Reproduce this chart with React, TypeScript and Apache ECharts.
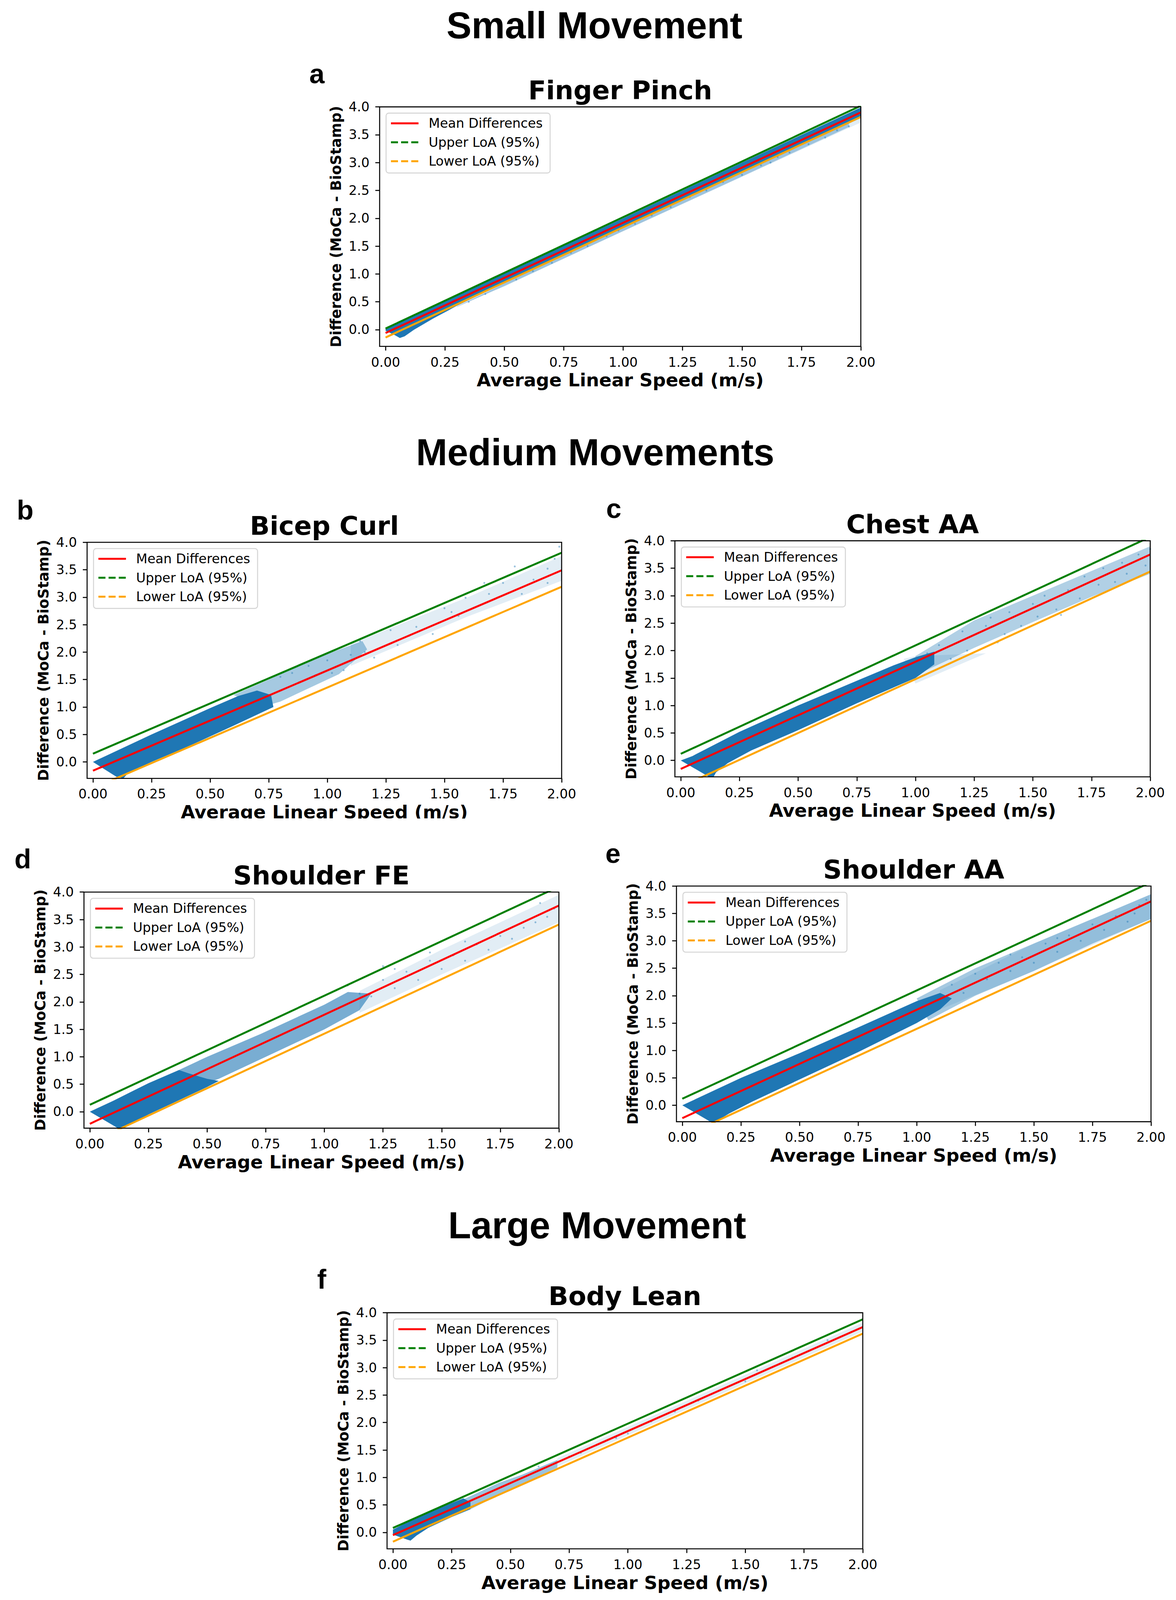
import React, { useEffect, useRef, useState } from 'react';
import * as echarts from 'echarts';

// ---------- data ----------
const X_TICKS = [0, 0.25, 0.5, 0.75, 1, 1.25, 1.5, 1.75, 2];
const Y_TICKS = [0, 0.5, 1, 1.5, 2, 2.5, 3, 3.5, 4];
const X_RANGE = [-0.025, 2];
const Y_RANGE = [-0.3, 4];
const LINE_X = [0, 2];

const SECTION_TITLES = ['Small Movement', 'Medium Movements', 'Large Movement'];
const PANEL_LETTERS = ['a', 'b', 'c', 'd', 'e', 'f'];
const PANEL_TITLES = ['Finger Pinch', 'Bicep Curl', 'Chest AA', 'Shoulder FE', 'Shoulder AA', 'Body Lean'];
const LEGEND_LABELS = ['Mean Differences', 'Upper LoA (95%)', 'Lower LoA (95%)'];
const X_LABEL = 'Average Linear Speed (m/s)';
const Y_LABEL = 'Difference (MoCa - BioStamp)';

// y of each line at x = 0 and x = 2
const MEAN_Y = [[-0.06, 3.9], [-0.16, 3.49], [-0.155, 3.75], [-0.22, 3.755], [-0.234, 3.72], [-0.05, 3.74]];
const UPPER_Y = [[0.02, 4.02], [0.15, 3.81], [0.12, 4.07], [0.126, 4.1], [0.12, 4.07], [0.08, 3.88]];
const LOWER_Y = [[-0.14, 3.82], [-0.48, 3.19], [-0.48, 3.44], [-0.567, 3.41], [-0.576, 3.365], [-0.17, 3.62]];

// dense scatter cloud outlines
const CORE_A = [[0, -0.02], [0, 0.02], [0.5, 1.01], [1.0, 2.0], [1.5, 3.0], [2, 3.99], [2, 3.8], [1.5, 2.82], [1.0, 1.83], [0.5, 0.84], [0.3, 0.43], [0.2, 0.2], [0.12, 0.0], [0.08, -0.12], [0.06, -0.15], [0.04, -0.1]];
const CORE_B = [[0, 0], [0.05, 0.1], [0.25, 0.5], [0.5, 0.98], [0.62, 1.2], [0.7, 1.3], [0.76, 1.22], [0.77, 1.0], [0.6, 0.66], [0.4, 0.27], [0.25, 0.0], [0.15, -0.2], [0.13, -0.3], [0.1, -0.27]];
const CORE_C = [[0, 0], [0.05, 0.08], [0.25, 0.52], [0.5, 1.0], [0.75, 1.45], [0.9, 1.72], [1.0, 1.88], [1.08, 1.98], [1.08, 1.75], [1.0, 1.5], [0.75, 1.04], [0.5, 0.55], [0.3, 0.18], [0.2, -0.05], [0.15, -0.22], [0.14, -0.3], [0.12, -0.3]];
const CORE_D = [[0, 0], [0.1, 0.2], [0.25, 0.52], [0.38, 0.76], [0.42, 0.7], [0.5, 0.6], [0.55, 0.56], [0.5, 0.45], [0.35, 0.15], [0.25, -0.05], [0.2, -0.17], [0.15, -0.27], [0.13, -0.3], [0.12, -0.3]];
const CORE_E = [[0, 0], [0.1, 0.2], [0.25, 0.5], [0.5, 0.95], [0.75, 1.42], [1.0, 1.9], [1.1, 2.05], [1.15, 1.95], [1.1, 1.75], [1.0, 1.5], [0.75, 0.97], [0.5, 0.47], [0.3, 0.07], [0.2, -0.15], [0.15, -0.28], [0.135, -0.3], [0.12, -0.3]];
const CORE_F = [[0, 0.05], [0.1, 0.27], [0.2, 0.45], [0.3, 0.62], [0.33, 0.55], [0.33, 0.42], [0.25, 0.28], [0.15, 0.08], [0.1, -0.06], [0.075, -0.15], [0.06, -0.13], [0, -0.04]];

// medium-density cloud outlines
const HALO_A = [[0.1, 0.0], [0.5, 0.83], [1.0, 1.83], [1.5, 2.82], [1.95, 3.72], [1.95, 3.64], [1.5, 2.75], [1.0, 1.77], [0.5, 0.78], [0.25, 0.32]];
const HALO_B = [[0.6, 1.22], [0.75, 1.5], [0.9, 1.8], [1.0, 1.97], [1.15, 2.2], [1.17, 2.05], [1.05, 1.6], [0.95, 1.4], [0.8, 1.1], [0.72, 1.0]];
const HALO_C = [[1.0, 1.9], [1.25, 2.55], [1.5, 3.0], [1.75, 3.45], [2.0, 3.9], [2.0, 3.4], [1.75, 2.98], [1.5, 2.52], [1.25, 2.05], [1.0, 1.55]];
const HALO_D = [[0.38, 0.76], [0.5, 1.0], [0.73, 1.42], [1.0, 1.95], [1.1, 2.18], [1.2, 2.15], [1.15, 1.85], [1.0, 1.5], [0.75, 1.0], [0.55, 0.6], [0.45, 0.45]];
const HALO_E = [[1.0, 1.95], [1.25, 2.5], [1.5, 2.95], [1.75, 3.4], [2.0, 3.85], [2.0, 3.4], [1.75, 2.95], [1.5, 2.45], [1.25, 2.0], [1.05, 1.55]];
const HALO_F = [[0.3, 0.6], [0.45, 0.9], [0.55, 1.05], [0.7, 1.32], [0.7, 1.18], [0.55, 0.88], [0.45, 0.68], [0.33, 0.42]];

// outer, sparse cloud outlines
const FRINGE_A = [[0.3, 0.45], [2.0, 3.9], [2.0, 3.72], [0.3, 0.4]];
const FRINGE_B = [[1.1, 2.15], [1.6, 3.0], [2.0, 3.75], [2.0, 3.3], [1.6, 2.65], [1.1, 1.75]];
const FRINGE_C = [[0.95, 1.85], [1.0, 1.4], [1.3, 1.95], [1.0, 1.9]];
const FRINGE_D = [[1.15, 2.2], [1.5, 2.95], [2.0, 3.95], [2.0, 3.45], [1.5, 2.5], [1.15, 1.8]];
const FRINGE_E = [[1.1, 2.1], [1.5, 2.95], [2.0, 3.85], [2.0, 3.4], [1.5, 2.45], [1.1, 1.75]];
const FRINGE_F = [[0.7, 1.35], [2.0, 3.82], [2.0, 3.66], [0.7, 1.2]];

// individual sparse points
const SPARSE_A = [[0.35, 0.5], [0.42, 0.64], [0.55, 0.9], [0.62, 1.05], [0.7, 1.2], [0.78, 1.38], [0.85, 1.5], [0.93, 1.68], [1.05, 1.9], [1.12, 2.05], [1.2, 2.2], [1.28, 2.38], [1.35, 2.5], [1.42, 2.65], [1.5, 2.78], [1.58, 2.95], [1.62, 3.0], [1.7, 3.18], [1.78, 3.33], [1.85, 3.45], [1.9, 3.58], [1.95, 3.65], [1.3, 2.45], [0.98, 1.78], [1.65, 3.1]];
const SPARSE_B = [[0.8, 1.55], [0.85, 1.62], [0.88, 1.45], [0.92, 1.75], [0.95, 1.58], [1.0, 1.85], [1.02, 1.62], [1.07, 1.67], [1.1, 1.95], [1.14, 2.2], [1.16, 2.0], [1.2, 1.9], [1.27, 2.4], [1.3, 2.13], [1.35, 2.3], [1.38, 2.46], [1.45, 2.33], [1.5, 2.8], [1.53, 2.73], [1.56, 2.66], [1.59, 2.99], [1.67, 3.26], [1.69, 3.06], [1.75, 3.26], [1.8, 3.56], [1.83, 3.06], [1.88, 3.32], [1.94, 3.52], [1.94, 3.26], [1.99, 3.92], [1.97, 3.7]];
const SPARSE_C = [[1.05, 1.95], [1.1, 2.1], [1.15, 1.85], [1.2, 2.35], [1.22, 2.0], [1.3, 2.45], [1.32, 2.6], [1.38, 2.3], [1.4, 2.7], [1.45, 2.45], [1.5, 2.85], [1.52, 2.62], [1.55, 3.0], [1.6, 2.75], [1.65, 3.1], [1.7, 2.95], [1.72, 3.35], [1.78, 3.2], [1.8, 3.5], [1.85, 3.25], [1.88, 3.6], [1.9, 3.4], [1.95, 3.75], [1.98, 3.55], [2.0, 3.85], [1.62, 2.65], [1.35, 2.15]];
const SPARSE_D = [[1.15, 2.15], [1.2, 2.1], [1.25, 2.4], [1.3, 2.25], [1.35, 2.55], [1.4, 2.4], [1.45, 2.75], [1.5, 2.6], [1.55, 2.85], [1.6, 2.75], [1.65, 3.05], [1.7, 2.95], [1.75, 3.2], [1.8, 3.15], [1.85, 3.35], [1.9, 3.45], [1.95, 3.55], [1.98, 3.7], [1.92, 3.8], [1.6, 3.1], [1.3, 2.6], [1.45, 2.9], [1.1, 2.3], [1.25, 2.65]];
const SPARSE_E = [[1.15, 2.2], [1.2, 2.05], [1.25, 2.4], [1.3, 2.3], [1.35, 2.6], [1.4, 2.45], [1.45, 2.7], [1.5, 2.6], [1.55, 2.95], [1.6, 2.8], [1.65, 3.1], [1.7, 3.0], [1.75, 3.3], [1.8, 3.2], [1.85, 3.45], [1.9, 3.35], [1.95, 3.65], [1.98, 3.75], [1.93, 3.5], [1.6, 3.05], [1.4, 2.75]];
const SPARSE_F = [[0.62, 1.2], [0.75, 1.38], [0.8, 1.45], [0.9, 1.65], [0.95, 1.72], [1.0, 1.8], [1.1, 2.02], [1.2, 2.2], [1.3, 2.4], [1.5, 2.75], [1.55, 2.95], [1.7, 3.18], [1.85, 3.5], [1.95, 3.65]];

const CORES = [CORE_A, CORE_B, CORE_C, CORE_D, CORE_E, CORE_F];
const HALOS = [HALO_A, HALO_B, HALO_C, HALO_D, HALO_E, HALO_F];
const FRINGES = [FRINGE_A, FRINGE_B, FRINGE_C, FRINGE_D, FRINGE_E, FRINGE_F];
const SPARSES = [SPARSE_A, SPARSE_B, SPARSE_C, SPARSE_D, SPARSE_E, SPARSE_F];

// ---------- layout & style (reference pixels, 3011 x 4222) ----------
const REF_W = 3011;
const REF_H = 4222;
const BOXES = [
  { l: 972, t: 282, w: 1232, h: 632 },
  { l: 223, t: 1431, w: 1215, h: 623 },
  { l: 1728, t: 1427, w: 1217, h: 623 },
  { l: 215, t: 2354, w: 1216, h: 623 },
  { l: 1732, t: 2338, w: 1215, h: 622 },
  { l: 991, t: 3464, w: 1218, h: 623 },
];
const SECTION_POS = [[1522, 100], [1524, 1226], [1529, 3266]];
const LETTER_POS = [[792, 219], [43, 1370], [1552, 1366], [37, 2291], [1550, 2276], [812, 3400]];
const HALO_OPACITY = [0.35, 0.4, 0.35, 0.6, 0.4, 0.45];

const BLUE = '#1f77b4';
const RED = '#ff0000';
const GREEN = '#008000';
const ORANGE = '#ffa500';
const MPL = 'DejaVu Sans';
const HELV = 'Liberation Sans';

function buildOption(sx: number, sy: number) {
  const sf = sx;
  const X = (v: number) => v * sx;
  const Y = (v: number) => v * sy;
  const F = (v: number) => v * sf;

  function txt(text: string, x: number, y: number, size: number, opts: any = {}) {
    const align = opts.align || 'center';
    return {
      type: 'text',
      x: X(x),
      y: Y(y),
      rotation: opts.rotation || 0,
      z: 100,
      silent: true,
      style: {
        text,
        fill: '#000',
        fontSize: F(size),
        fontFamily: opts.family || MPL,
        fontWeight: opts.weight || 'normal',
        align,
        textAlign: align,
        verticalAlign: 'middle',
        textVerticalAlign: 'middle',
      },
    };
  }

  function polySeries(i: number, pts: number[][], opacity: number, z: number) {
    return {
      type: 'custom',
      xAxisIndex: i,
      yAxisIndex: i,
      clip: true,
      silent: true,
      z,
      data: [pts[0]],
      renderItem: (_p: any, api: any) => ({
        type: 'polygon',
        shape: { points: pts.map((p) => api.coord(p)) },
        style: { fill: BLUE, opacity },
      }),
    };
  }

  function lineSeries(i: number, name: string, ys: number[], color: string) {
    return {
      type: 'line',
      name,
      xAxisIndex: i,
      yAxisIndex: i,
      data: LINE_X.map((x, k) => [x, ys[k]]),
      symbol: 'none',
      clip: true,
      silent: true,
      z: 5,
      lineStyle: { color, width: F(5) },
    };
  }

  const grids = BOXES.map((b) => ({ left: X(b.l), top: Y(b.t), width: X(b.w), height: Y(b.h), show: false }));
  const xAxes = BOXES.map((_b, i) => ({
    gridIndex: i,
    type: 'value',
    position: 'bottom',
    min: X_RANGE[0],
    max: X_RANGE[1],
    axisLine: { show: false, onZero: false },
    splitLine: { show: false },
    axisTick: { show: true, customValues: X_TICKS, length: Y(11), lineStyle: { color: '#000', width: F(2.6) } },
    axisLabel: {
      customValues: X_TICKS,
      formatter: (v: number) => v.toFixed(2),
      fontFamily: MPL,
      fontSize: F(33.5),
      color: '#000',
      margin: Y(24),
    },
  }));
  const yAxes = BOXES.map((_b, i) => ({
    gridIndex: i,
    type: 'value',
    position: 'left',
    min: Y_RANGE[0],
    max: Y_RANGE[1],
    axisLine: { show: false, onZero: false },
    splitLine: { show: false },
    axisTick: { show: true, customValues: Y_TICKS, length: X(11), lineStyle: { color: '#000', width: F(2.6) } },
    axisLabel: {
      customValues: Y_TICKS,
      formatter: (v: number) => v.toFixed(1),
      fontFamily: MPL,
      fontSize: F(33.5),
      color: '#000',
      margin: X(26),
    },
  }));

  const series: any[] = [];
  BOXES.forEach((_b, i) => {
    series.push(polySeries(i, FRINGES[i], 0.13, 1));
    series.push(polySeries(i, HALOS[i], HALO_OPACITY[i], 2));
    series.push(polySeries(i, CORES[i], 1, 3));
    series.push({
      type: 'scatter',
      xAxisIndex: i,
      yAxisIndex: i,
      data: SPARSES[i],
      symbolSize: F(5),
      silent: true,
      z: 4,
      itemStyle: { color: BLUE, opacity: 0.45 },
    });
    series.push(lineSeries(i, LEGEND_LABELS[0], MEAN_Y[i], RED));
    series.push(lineSeries(i, LEGEND_LABELS[1], UPPER_Y[i], GREEN));
    series.push(lineSeries(i, LEGEND_LABELS[2], LOWER_Y[i], ORANGE));
  });

  const elements: any[] = [];
  SECTION_TITLES.forEach((t, k) => {
    elements.push(txt(t, SECTION_POS[k][0], SECTION_POS[k][1] - 33.3, 96, { family: HELV, weight: 'bold' }));
  });
  PANEL_LETTERS.forEach((t, k) => {
    elements.push(txt(t, LETTER_POS[k][0], LETTER_POS[k][1] - 24.3, 70, { family: HELV, weight: 'bold', align: 'left' }));
  });
  const legendColors = [RED, GREEN, ORANGE];
  BOXES.forEach((b, i) => {
    const cx = b.l + b.w / 2;
    elements.push({
      type: 'rect',
      z: 90,
      silent: true,
      shape: { x: X(b.l), y: Y(b.t), width: X(b.w), height: Y(b.h) },
      style: { fill: 'none', stroke: '#000', lineWidth: F(2.6) },
    });
    elements.push(txt(PANEL_TITLES[i], cx, b.t - 44, 66.7, { weight: 'bold' }));
    elements.push(txt(X_LABEL, cx, b.t + b.h + 88.7, 47, { weight: 'bold' }));
    elements.push(txt(Y_LABEL, b.l - 112, b.t + b.h / 2, 37, { weight: 'bold', rotation: Math.PI / 2 }));
    const lx = b.l + 16.5;
    const ly = b.t + 16.5;
    elements.push({
      type: 'rect',
      z: 95,
      silent: true,
      shape: { x: X(lx), y: Y(ly), width: X(420), height: Y(158), r: F(7) },
      style: { fill: 'rgba(255,255,255,0.8)', stroke: 'rgba(204,204,204,0.8)', lineWidth: F(2.6) },
    });
    LEGEND_LABELS.forEach((lab, k) => {
      const ry = ly + 27 + k * 50;
      elements.push({
        type: 'line',
        z: 96,
        silent: true,
        shape: { x1: X(lx + 12.5), y1: Y(ry), x2: X(lx + 83), y2: Y(ry) },
        style: { stroke: legendColors[k], lineWidth: F(5), lineDash: k === 0 ? null : [F(18), F(8)] },
      });
      elements.push(txt(lab, lx + 109, ry, 33.5, { align: 'left' }));
    });
  });
  // panel b's x label is cut at the bottom in the figure
  elements.push({
    type: 'rect',
    z: 200,
    silent: true,
    shape: { x: 0, y: Y(2160), width: X(1500), height: Y(75) },
    style: { fill: '#fff' },
  });

  return {
    animation: false,
    backgroundColor: '#fff',
    grid: grids,
    xAxis: xAxes,
    yAxis: yAxes,
    series,
    graphic: { elements },
  };
}

export default function App() {
  const ref = useRef<HTMLDivElement>(null);
  const [size] = useState(() => ({
    w: (typeof window !== 'undefined' && document.documentElement.clientWidth) || REF_W,
    h: (typeof window !== 'undefined' && window.innerHeight) || REF_H,
  }));
  useEffect(() => {
    const chart = echarts.init(ref.current!, null, { renderer: 'svg' });
    chart.setOption(buildOption(size.w / REF_W, size.h / REF_H) as any);
    return () => chart.dispose();
  }, [size]);
  return (
    <div
      ref={ref}
      style={{ position: 'absolute', left: 0, top: 0, width: size.w, height: size.h, background: '#fff', overflow: 'hidden' }}
    />
  );
}
